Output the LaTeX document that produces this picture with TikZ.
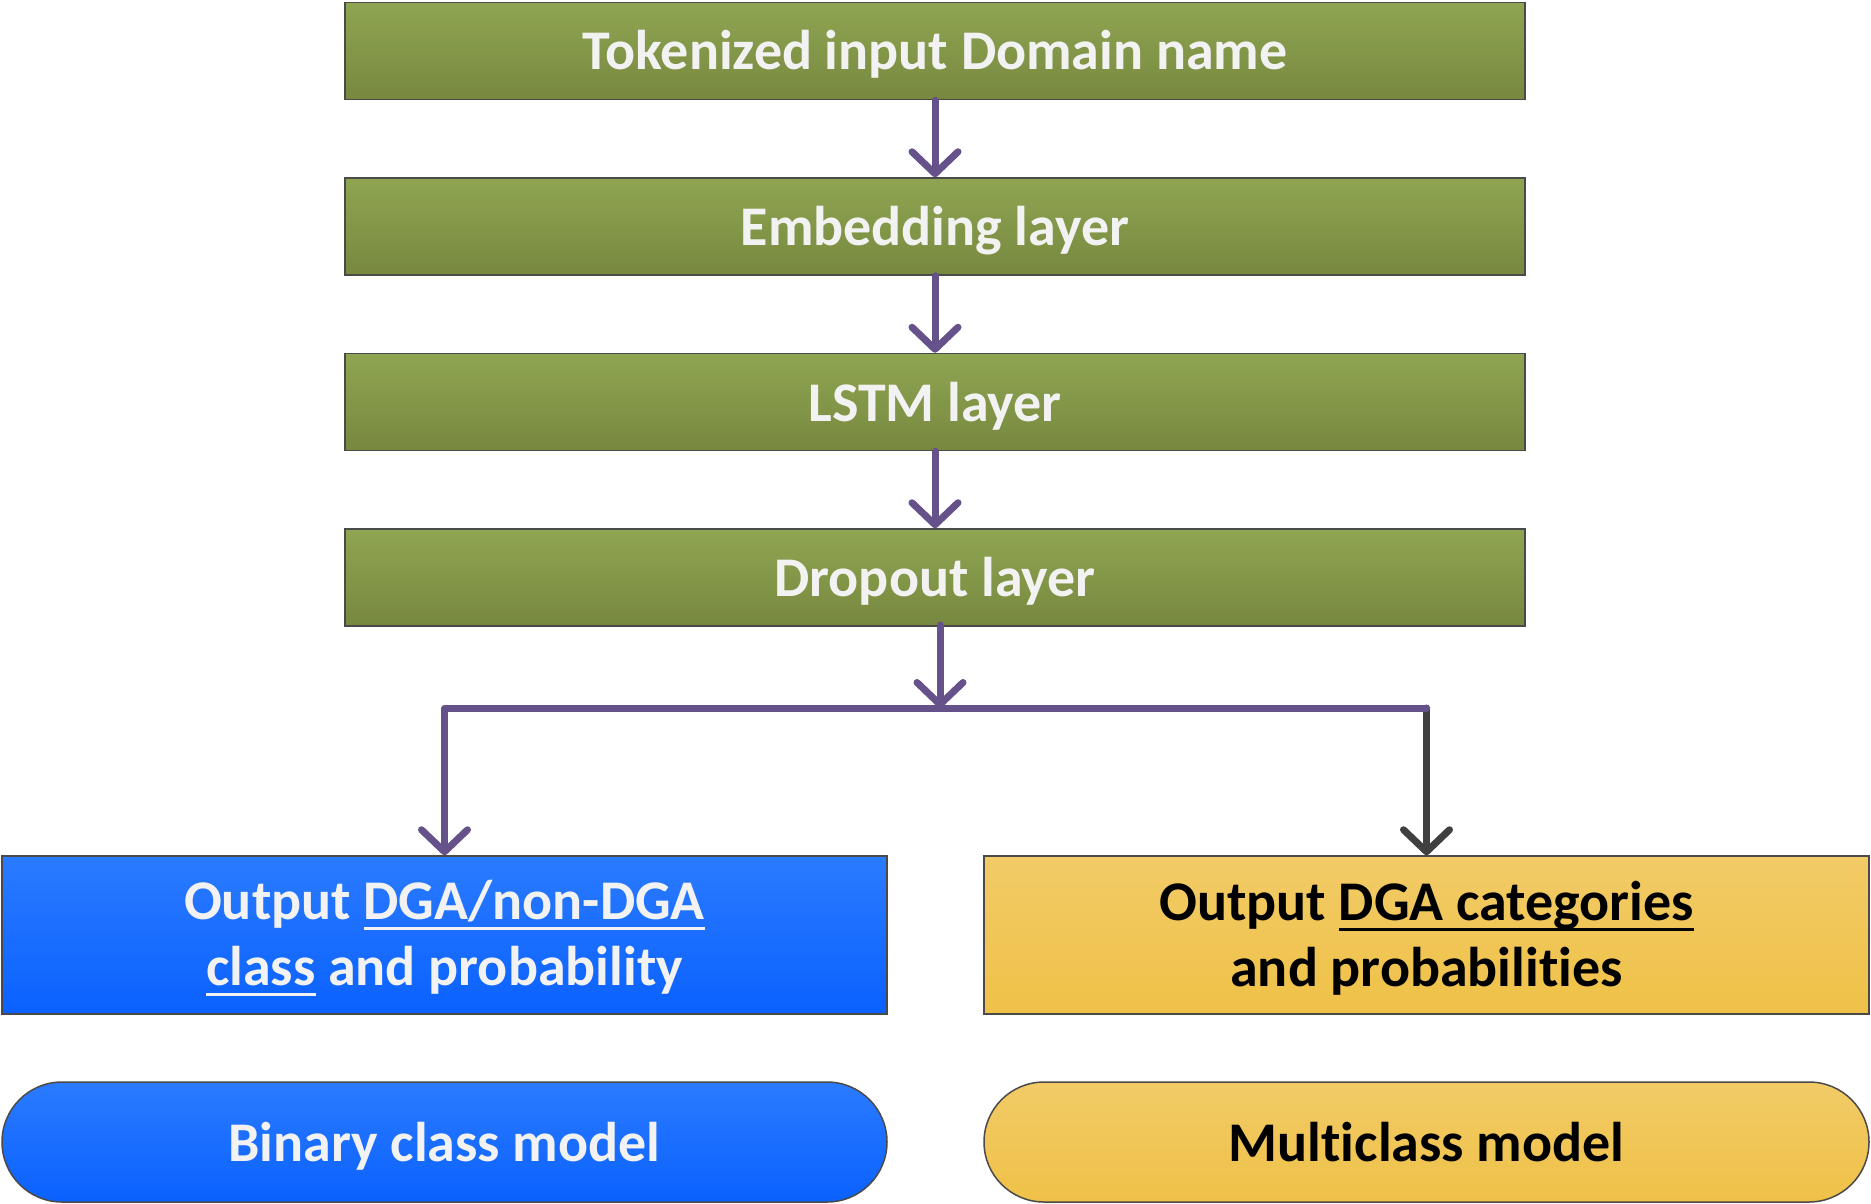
\documentclass[tikz,border=0pt]{standalone}
\usepackage{fontspec}
\setmainfont{Carlito}[Ligatures=NoCommon]
\newsavebox\ulinebox
\newcommand{\myul}[1]{\sbox\ulinebox{#1}\rlap{\usebox\ulinebox}\rule[-11pt]{\wd\ulinebox}{3.5pt}}
\usetikzlibrary{arrows.meta}
\definecolor{gtop}{HTML}{8FA552}
\definecolor{gbot}{HTML}{77883F}
\definecolor{btop}{HTML}{2B7BFF}
\definecolor{bbot}{HTML}{0A61FE}
\definecolor{ytop}{HTML}{F2CB67}
\definecolor{ybot}{HTML}{EFC147}
\definecolor{edge}{HTML}{4A4A4A}
\definecolor{arrowpurple}{HTML}{65528A}
\definecolor{arrowgray}{HTML}{404040}
\definecolor{lighttext}{HTML}{F2F2F2}
\tikzset{
  greenbox/.style={draw=edge, line width=1.5pt, top color=gtop, bottom color=gbot,
    minimum width=1180pt, minimum height=97pt, text=lighttext, inner sep=0pt},
  bluebox/.style={draw=edge, line width=1.5pt, top color=btop, bottom color=bbot,
    minimum width=885pt, minimum height=158pt, text=lighttext, align=center, inner sep=0pt},
  yellowbox/.style={draw=edge, line width=1.5pt, top color=ytop, bottom color=ybot,
    minimum width=885pt, minimum height=158pt, text=black, align=center, inner sep=0pt},
  pill/.style={rounded corners=60pt, minimum width=885pt, minimum height=120pt, inner sep=0pt},
  flow/.style={line width=7pt, line cap=round, line join=round,
    -{Straight Barb[length=22pt, width=46pt, line cap=round, line join=round]}},
  txt/.style={font=\fontsize{56}{66}\selectfont\bfseries},
  oneline/.style={text height=46pt, text depth=8pt},
}
\begin{document}
\begin{tikzpicture}[x=1pt,y=-1pt]
\useasboundingbox (0,0) rectangle (1871,1204);
\node[greenbox, txt, oneline] (g1) at (935,51) {Tokenized input Domain name};
\node[greenbox, txt, oneline] (g2) at (935,226.5) {Embedding layer};
\node[greenbox, txt, oneline] (g3) at (935,402) {LSTM layer};
\node[greenbox, txt, oneline] (g4) at (935,577.5) {Dropout layer};

\node[bluebox, txt] (b1) at (444.5,935) {\rule{0pt}{45pt}Output \myul{DGA/non-DGA}\\\myul{class} and probability};
\node[yellowbox, txt] (y1) at (1426.5,935) {\rule{0pt}{45pt}Output \myul{DGA categories}\\and probabilities};

\node[bluebox, pill, txt, oneline] (b2) at (444.5,1142) {Binary class model};
\node[yellowbox, pill, txt, oneline] (y2) at (1426.5,1142) {Multiclass model};

\coordinate (split) at (940,708);
\coordinate (dropout) at (940,625);

\draw[flow, arrowpurple] (g1.south) -- (g2.north);
\draw[flow, arrowpurple] (g2.south) -- (g3.north);
\draw[flow, arrowpurple] (g3.south) -- (g4.north);
\draw[flow, arrowpurple] (dropout) -- (split);
\draw[flow, arrowgray] (y1.north |- split) -- (y1.north);
\draw[flow, arrowpurple] (y1.north |- split) -- (b1.north |- split) -- (b1.north);
\end{tikzpicture}
\end{document}
